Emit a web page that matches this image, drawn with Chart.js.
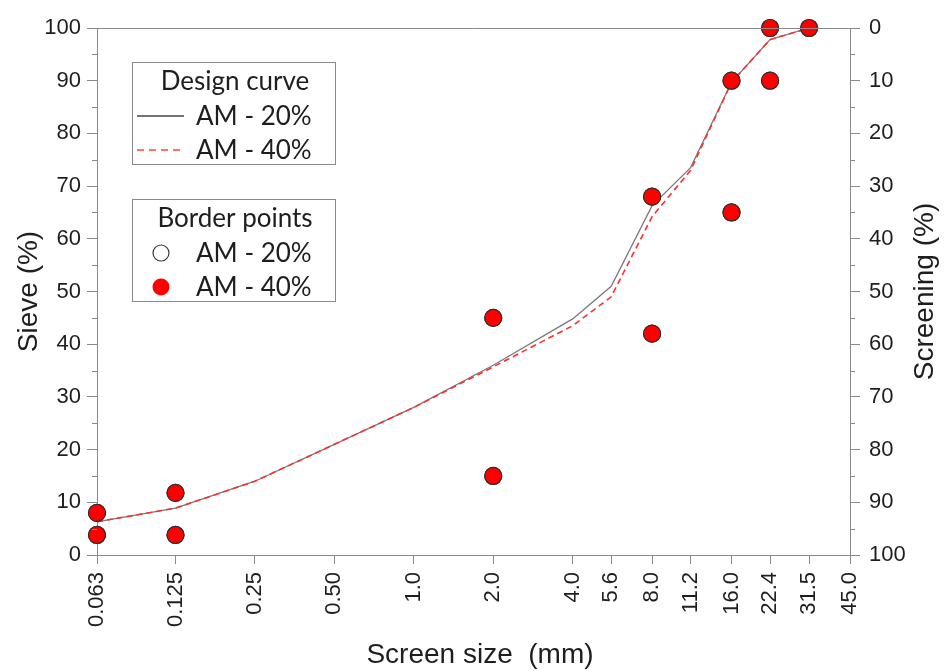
<!DOCTYPE html>
<html>
<head>
<meta charset="utf-8">
<script src="https://cdn.jsdelivr.net/npm/chart.js@4.4.1/dist/chart.umd.min.js"></script>
<style>
  html, body { margin: 0; padding: 0; background: #fff; }
  #wrap { width: 948px; height: 671px; position: relative; }
</style>
</head>
<body>
<div id="wrap"><canvas id="c"></canvas></div>
<script>
// Sieve sizes (mm) and the tick labels shown on the x axis
const screenTicks = [0.063, 0.125, 0.25, 0.5, 1, 2, 4, 5.6, 8, 11.2, 16, 22.4, 31.5, 45];
const screenTickLabels = ['0.063', '0.125', '0.25', '0.50', '1.0', '2.0', '4.0', '5.6', '8.0', '11.2', '16.0', '22.4', '31.5', '45.0'];

// Design curves (passing %)
const curveSizes = [0.063, 0.125, 0.25, 0.5, 1, 2, 4, 5.6, 8, 11.2, 16, 22.4, 31.5];
const curveAM20 = [6.3, 8.9, 14, 21, 28, 36, 44.8, 51, 66.3, 73.5, 89.7, 97.8, 100];
const curveAM40 = [6.3, 8.9, 14, 21, 28, 35.7, 43.5, 49, 64.2, 73, 89.7, 97.8, 100];

// Border points of the grading envelope
const borderSizes = [0.063, 0.063, 0.125, 0.125, 2, 2, 8, 8, 16, 16, 22.4, 22.4, 31.5];
const borderAM20 = [8, 3.8, 11.8, 3.8, 45, 15, 68, 42, 90, 65, 100, 90, 100];
const borderAM40 = [8, 3.8, 11.8, 3.8, 45, 15, 68, 42, 90, 65, 100, 90, 100];

const percentTicks = [0, 10, 20, 30, 40, 50, 60, 70, 80, 90, 100];

const toXY = (xs, ys) => xs.map((x, i) => ({ x: x, y: ys[i] }));

const AXIS = '#8a8a8a';
const TXT = '#1e1e1e';
const tickFont = { family: '"Liberation Sans", Arial, sans-serif', size: 22 };
const titleFont = { family: '"Liberation Sans", Arial, sans-serif', size: 28 };
const legendFont = '26px Lato, "Open Sans", sans-serif';

// Minor ticks, top frame line, axis titles and the two legend boxes
const decorations = {
  id: 'decorations',
  afterDraw(chart) {
    const ctx = chart.ctx;
    const ca = chart.chartArea;
    const yL = chart.scales.y;
    const yR = chart.scales.y2;
    ctx.save();
    ctx.strokeStyle = AXIS;
    ctx.lineWidth = 1;
    // top frame line
    ctx.beginPath();
    ctx.moveTo(ca.left, ca.top + 0.5);
    ctx.lineTo(ca.right, ca.top + 0.5);
    ctx.stroke();
    // minor ticks at every 5 %
    for (let v = 5; v < 100; v += 10) {
      const py = Math.round(yL.getPixelForValue(v)) + 0.5;
      ctx.beginPath();
      ctx.moveTo(ca.left - 5, py);
      ctx.lineTo(ca.left, py);
      ctx.stroke();
      const qy = Math.round(yR.getPixelForValue(v)) + 0.5;
      ctx.beginPath();
      ctx.moveTo(ca.right, qy);
      ctx.lineTo(ca.right + 5, qy);
      ctx.stroke();
    }
    ctx.fillStyle = TXT;
    ctx.font = titleFont.size + 'px ' + titleFont.family;
    ctx.textAlign = 'center';
    ctx.textBaseline = 'middle';
    // bottom axis title
    ctx.fillText('Screen size  (mm)', 480, 655);
    // right axis title, reading upward
    ctx.translate(925, (ca.top + ca.bottom) / 2);
    ctx.rotate(-Math.PI / 2);
    ctx.fillText('Screening (%)', 0, 0);
    ctx.restore();

    // legend boxes
    ctx.save();
    ctx.strokeStyle = AXIS;
    ctx.lineWidth = 1;
    ctx.strokeRect(132.5, 62.5, 203, 102);
    ctx.strokeRect(132.5, 199.5, 203, 102);
    ctx.fillStyle = TXT;
    ctx.font = legendFont;
    ctx.textBaseline = 'middle';
    ctx.textAlign = 'center';
    ctx.fillText('Design curve', 235, 82);
    ctx.fillText('Border points', 235, 219);
    ctx.textAlign = 'left';
    ctx.fillText(chart.data.datasets[0].label, 196, 117);
    ctx.fillText(chart.data.datasets[1].label, 196, 151);
    ctx.fillText(chart.data.datasets[2].label, 196, 254);
    ctx.fillText(chart.data.datasets[3].label, 196, 288);
    // line samples
    ctx.beginPath();
    ctx.strokeStyle = '#4a4446';
    ctx.lineWidth = 1.5;
    ctx.moveTo(137, 116);
    ctx.lineTo(184, 116);
    ctx.stroke();
    ctx.beginPath();
    ctx.strokeStyle = '#ff4a22';
    ctx.setLineDash([7, 5]);
    ctx.moveTo(137, 150);
    ctx.lineTo(184, 150);
    ctx.stroke();
    ctx.setLineDash([]);
    // marker samples
    ctx.beginPath();
    ctx.arc(161, 253, 8, 0, Math.PI * 2);
    ctx.fillStyle = '#fff';
    ctx.fill();
    ctx.strokeStyle = '#3a3a3a';
    ctx.lineWidth = 1.2;
    ctx.stroke();
    ctx.beginPath();
    ctx.arc(161, 287, 8.5, 0, Math.PI * 2);
    ctx.fillStyle = '#ff0000';
    ctx.fill();
    ctx.restore();
  }
};

new Chart(document.getElementById('c'), {
  type: 'scatter',
  data: {
    datasets: [
      {
        label: 'AM - 20%',
        type: 'line',
        data: toXY(curveSizes, curveAM20),
        borderColor: '#7a7a7a',
        borderWidth: 1.3,
        pointRadius: 0,
        fill: false,
        tension: 0,
        order: 4
      },
      {
        label: 'AM - 40%',
        type: 'line',
        data: toXY(curveSizes, curveAM40),
        borderColor: '#ff2e2e',
        borderWidth: 1.6,
        borderDash: [6, 4],
        pointRadius: 0,
        fill: false,
        tension: 0,
        order: 3
      },
      {
        label: 'AM - 20%',
        data: toXY(borderSizes, borderAM20),
        backgroundColor: '#ffffff',
        borderColor: '#3a3a3a',
        borderWidth: 1.2,
        pointRadius: 8.5,
        showLine: false,
        clip: false,
        order: 2
      },
      {
        label: 'AM - 40%',
        data: toXY(borderSizes, borderAM40),
        backgroundColor: '#ff0000',
        borderColor: '#3a2a2a',
        borderWidth: 1.2,
        pointRadius: 8.5,
        showLine: false,
        clip: false,
        order: 1
      }
    ]
  },
  options: {
    responsive: true,
    maintainAspectRatio: false,
    animation: false,
    layout: { padding: { top: 28, left: 0, right: 0, bottom: 0 } },
    plugins: {
      legend: { display: false },
      tooltip: { enabled: false }
    },
    scales: {
      x: {
        type: 'logarithmic',
        position: 'bottom',
        min: 0.063,
        max: 45,
        afterBuildTicks(scale) {
          scale.ticks = screenTicks.map(v => ({ value: v }));
        },
        afterFit(scale) { scale.height = 116; },
        ticks: {
          autoSkip: false,
          minRotation: 90,
          maxRotation: 90,
          padding: 8,
          color: TXT,
          font: tickFont,
          callback: (value, index) => screenTickLabels[index]
        },
        grid: {
          drawOnChartArea: false,
          drawTicks: true,
          tickLength: 9,
          color: AXIS
        },
        border: { display: true, color: AXIS }
      },
      y: {
        type: 'linear',
        position: 'left',
        min: 0,
        max: 100,
        afterBuildTicks(scale) {
          scale.ticks = percentTicks.map(v => ({ value: v }));
        },
        afterFit(scale) { scale.width = 97; },
        ticks: { padding: 6, color: TXT, font: tickFont },
        grid: {
          drawOnChartArea: false,
          drawTicks: true,
          tickLength: 10,
          color: AXIS
        },
        border: { display: true, color: AXIS },
        title: {
          display: true,
          text: 'Sieve (%)',
          color: TXT,
          font: titleFont,
          padding: { top: 12, bottom: 0 }
        }
      },
      y2: {
        type: 'linear',
        position: 'right',
        min: 0,
        max: 100,
        reverse: true,
        afterBuildTicks(scale) {
          scale.ticks = percentTicks.map(v => ({ value: v }));
        },
        afterFit(scale) { scale.width = 98; },
        ticks: { padding: 9, color: TXT, font: tickFont },
        grid: {
          drawOnChartArea: false,
          drawTicks: true,
          tickLength: 10,
          color: AXIS
        },
        border: { display: true, color: AXIS }
      }
    }
  },
  plugins: [decorations]
});
</script>
</body>
</html>
